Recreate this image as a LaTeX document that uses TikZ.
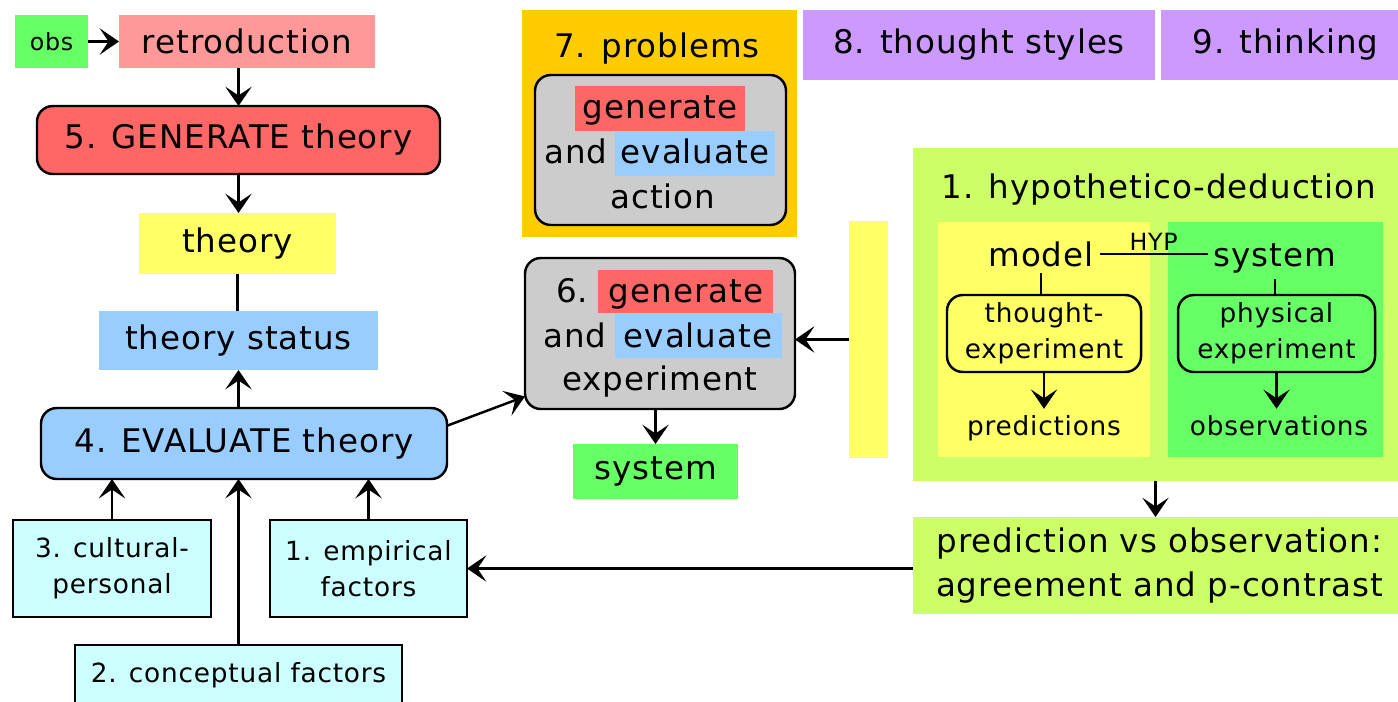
\documentclass[tikz,border=0pt]{standalone}
\usepackage{fontspec}
\setmainfont[LetterSpace=3]{DejaVu Sans}
\usetikzlibrary{arrows.meta, fit}

\definecolor{obsgreen}{HTML}{66FF66}
\definecolor{retropink}{HTML}{FF9999}
\definecolor{genred}{HTML}{FF6666}
\definecolor{theoryyellow}{HTML}{FFFF66}
\definecolor{evalblue}{HTML}{99CCFF}
\definecolor{factorcyan}{HTML}{CCFFFF}
\definecolor{probsorange}{HTML}{FFCC00}
\definecolor{actgray}{HTML}{CCCCCC}
\definecolor{stylepurple}{HTML}{CC99FF}
\definecolor{hdlime}{HTML}{CCFF66}

\tikzset{
  big/.style={font=\fontsize{18.5}{24.5}\selectfont},
  small/.style={font=\fontsize{15}{20.5}\selectfont},
  tiny/.style={font=\fontsize{13.5}{16}\selectfont},
  sz/.style 2 args={minimum width=#1*0.02cm, minimum height=#2*0.02cm},
  patch/.style={inner sep=0pt, outer sep=0pt},
  framed/.style={patch, draw, line width=1.4pt},
  rounded/.style={framed, rounded corners=9pt},
  link/.style={line width=1.4pt},
  arr/.style={link, -{Stealth[length=11pt, width=15pt, inset=5pt]}},
}

\begin{document}
\begin{tikzpicture}[x=0.02cm, y=-0.02cm]
\useasboundingbox (0,0) rectangle (1398,701);

% left column
\node[patch, fill=obsgreen, tiny, sz={73}{53}] (obs) at (51.5,41.5) {obs};
\node[patch, fill=retropink, big, sz={256}{53}] (retro) at (247,41.5) {retroduction};
\node[rounded, fill=genred, big, sz={403}{68}] (gen) at (238.5,140) {5. GENERATE theory};
\node[patch, fill=theoryyellow, big, sz={197}{61}] (theory) at (237.5,243.5) {theory};
\node[patch, fill=evalblue, big, sz={279}{59}] (status) at (238.5,340.5) {theory status};
\node[rounded, fill=evalblue, big, sz={406}{71}] (eval) at (244,443.5) {4. EVALUATE theory};
\node[framed, fill=factorcyan, small, align=center, sz={198}{97}] (cult) at (112,568.5) {3. cultural-\\personal};
\node[framed, fill=factorcyan, small, align=center, sz={197}{97}] (emp) at (368.5,568.5) {1. empirical\\factors};
\node[framed, fill=factorcyan, small, sz={327}{60}] (concept) at (238.5,675) {2. conceptual factors};

% problems
\node[patch, fill=probsorange, fit={(522,10) (797,237)}] (probs) {};
\node[big, anchor=base] (probstitle) at (657,57) {7. problems};
\node[rounded, fill=actgray, fit={(535,75) (786,225)}] (action) {};
\node[patch, fill=genred, fit={(575,86) (745,131)}] (actgenhl) {};
\node[patch, fill=evalblue, fit={(615,131) (775,176)}] (actevalhl) {};
\node[big, anchor=base] (actgen) at (660,118) {generate};
\node[big, anchor=base] (actand) at (576,163) {and};
\node[big, anchor=base] (acteval) at (695,163) {evaluate};
\node[big, anchor=base] (actword) at (663,208) {action};

% experiment
\node[rounded, fill=actgray, fit={(525,258) (795,409)}] (exp) {};
\node[patch, fill=genred, fit={(598,270) (773,313)}] (expgenhl) {};
\node[patch, fill=evalblue, fit={(615,313) (782,358)}] (expevalhl) {};
\node[big, anchor=base] (expnum) at (572,302) {6.};
\node[big, anchor=base] (expgen) at (686,302) {generate};
\node[big, anchor=base] (expand) at (575,347) {and};
\node[big, anchor=base] (expeval) at (698,347) {evaluate};
\node[big, anchor=base] (expword) at (660,390) {experiment};
\node[patch, fill=obsgreen, big, sz={165}{55}] (sys) at (655.5,471.5) {system};
\node[patch, fill=theoryyellow, fit={(849,221) (888,458)}] (strip) {};

% thought styles
\node[patch, fill=stylepurple, big, sz={352}{70}] (styles) at (979,45) {8. thought styles};
\node[patch, fill=stylepurple, big, sz={249}{70}] (thinking) at (1285.5,45) {9. thinking};

% hypothetico-deduction
\node[patch, fill=hdlime, fit={(913,148) (1398,481)}] (hd) {};
\node[big, anchor=base] (hdtitle) at (1159,198) {1. hypothetico-deduction};
\node[patch, fill=theoryyellow, fit={(938,222) (1150,457)}] (modelside) {};
\node[patch, fill=obsgreen, fit={(1168,222) (1383,457)}] (systemside) {};
\node[big, anchor=base] (model) at (1041,266) {model};
\node[big, anchor=base] (system) at (1275,266) {system};
\node[rounded, small, align=center, sz={194}{77}] (thought) at (1044,333.5) {thought-\\experiment};
\node[rounded, small, align=center, sz={197}{77}] (physical) at (1276.5,333.5) {physical\\experiment};
\node[small, anchor=base] (pred) at (1044,435) {predictions};
\node[small, anchor=base] (observ) at (1279,435) {observations};
\node[patch, fill=hdlime, big, align=center, sz={493}{97}] (pvo) at (1159.5,565.5) {prediction vs observation:\\agreement and p-contrast};

% connectors
\draw[arr] (obs) -- (retro);
\draw[arr] (gen.north |- retro.south) -- (gen.north);
\draw[arr] (gen.south) -- (gen.south |- theory.north);
\draw[link] (theory.south) -- (theory.south |- status.north);
\draw[arr] (status.south |- eval.north) -- (status.south);
\draw[arr] (eval.5) -- (exp.205);
\draw[arr] (cult.north) -- (cult.north |- eval.south);
\draw[arr] (concept.north) -- (concept.north |- eval.south);
\draw[arr] (emp.north) -- (emp.north |- eval.south);
\draw[arr] (pvo.west |- emp.east) -- (emp.east);
\draw[arr] (sys.north |- exp.south) -- (sys.north);
\draw[arr] (strip.west) -- (strip.west -| exp.east);
\draw[arr] (hd.south) -- (hd.south |- pvo.north);
\draw[link] (model.east) -- node[tiny, above, inner sep=1pt] (hyp) {HYP} (model.east -| system.west);
\draw[link] (model.south) -- (model.south |- thought.north);
\draw[link] (system.south) -- (system.south |- physical.north);
\draw[arr] (thought.south) -- (thought.south |- pred.north);
\draw[arr] (physical.south) -- (physical.south |- observ.north);
\end{tikzpicture}
\end{document}
